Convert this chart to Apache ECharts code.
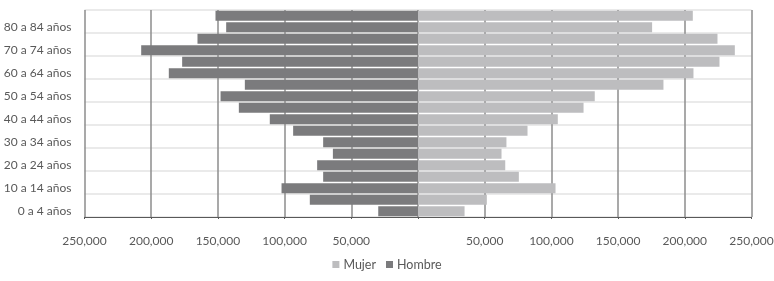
<!DOCTYPE html>
<html>
<head>
<meta charset="utf-8">
<script src="https://cdn.jsdelivr.net/npm/echarts@6/dist/echarts.min.js"></script>
<style>
html,body{margin:0;padding:0;background:#fff;}
#chart{width:774px;height:281px;}
</style>
</head>
<body>
<div id="chart"></div>
<script>
var categories = ["0 a 4 años","5 a 9 años","10 a 14 años","15 a 19 años","20 a 24 años","25 a 29 años","30 a 34 años","35 a 39 años","40 a 44 años","45 a 49 años","50 a 54 años","55 a 59 años","60 a 64 años","65 a 69 años","70 a 74 años","75 a 79 años","80 a 84 años","85 años y más"];
var mujer = [34900,51600,103100,75600,65400,62600,66300,82100,104800,124100,132500,184000,206500,226000,237500,224500,175500,206000];
var hombre = [29800,81100,102300,71100,75600,63800,71100,93600,111100,134300,148000,129800,186800,176800,207500,165300,143800,151800];
var xTicks = [-250000,-200000,-150000,-100000,-50000,0,50000,100000,150000,200000,250000];

var font = "Lato";
var chart = echarts.init(document.getElementById('chart'), null, {renderer:'canvas'});
function fmt(v){ if (v === 0) return ''; return Math.abs(v).toLocaleString('en-US'); }
chart.setOption({
  animation:false,
  textStyle:{fontFamily:font},
  grid:{left:84.5, right:22.5, top:10, bottom:64, containLabel:false, outerBoundsMode:'none'},
  legend:{
    data:['Mujer','Hombre'], bottom:5, left:'center',
    itemWidth:7, itemHeight:7, itemGap:10, icon:'rect',
    textStyle:{color:'#595959', fontSize:12.5, fontFamily:font, padding:[0,0,0,-1]}
  },
  xAxis:{
    type:'value', min:xTicks[0], max:xTicks[xTicks.length-1], interval:50000,
    axisLine:{show:true, onZero:false, lineStyle:{color:'#595959', width:1}},
    axisTick:{show:true, length:2, lineStyle:{color:'#595959'}},
    splitLine:{show:true, lineStyle:{color:'#8c8c8c', width:1.5}},
    axisLabel:{formatter:fmt, color:'#595959', fontSize:12, margin:18, fontFamily:font}
  },
  yAxis:{
    type:'category', data:categories,
    axisLine:{show:false}, axisTick:{show:false},
    splitLine:{show:true, lineStyle:{color:'#e3e3e3', width:1.5}},
    axisLabel:{interval:1, color:'#595959', fontSize:12, margin:13, fontFamily:font}
  },
  series:[
    {name:'Mujer', type:'bar', stack:'p', data:mujer, barCategoryGap:'14%',
     itemStyle:{color:'#bdbdbf'}},
    {name:'Hombre', type:'bar', stack:'p', data:hombre.map(function(v){return -v;}), barCategoryGap:'14%',
     itemStyle:{color:'#7b7b7d'}}
  ]
});
</script>
</body>
</html>
